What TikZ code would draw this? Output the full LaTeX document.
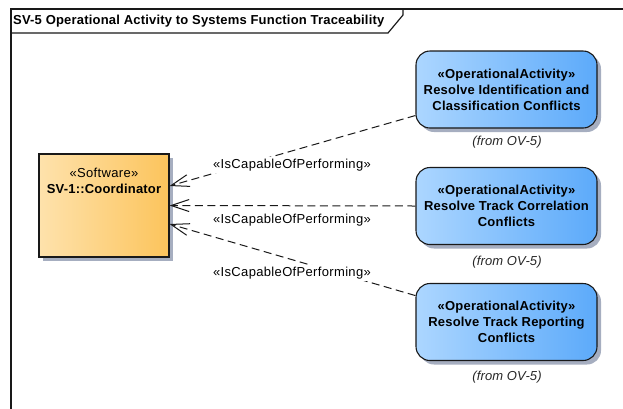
\documentclass[tikz,border=0pt]{standalone}
\usepackage{fontspec}
\setmainfont{Liberation Sans}[LetterSpace=2.6,BoldFeatures={LetterSpace=1.5},ItalicFeatures={LetterSpace=1}]
\usetikzlibrary{arrows.meta,shadows,calc}

\definecolor{swLeft}{RGB}{254,226,172}
\definecolor{swRight}{RGB}{252,196,92}
\definecolor{actLeft}{RGB}{172,214,255}
\definecolor{actRight}{RGB}{92,170,250}
\definecolor{shadowGray}{RGB}{166,174,192}
\definecolor{edge}{RGB}{25,25,25}

\tikzset{
  px/.style={x=1pt,y=-1pt},
  frameline/.style={draw=edge,line width=1.2pt},
  software/.style={draw=edge,line width=1.1pt,left color=swLeft,right color=swRight,
    minimum width=130pt,minimum height=103pt,inner sep=0pt,
    drop shadow={shadow xshift=4pt,shadow yshift=-4pt,fill=shadowGray,opacity=1}},
  activity/.style={draw=edge,line width=1.1pt,rounded corners=14pt,
    left color=actLeft,right color=actRight,
    minimum width=181pt,minimum height=77pt,align=center,inner sep=0pt,
    font=\fontsize{13}{16}\selectfont\bfseries,
    drop shadow={shadow xshift=4pt,shadow yshift=-4pt,fill=shadowGray,opacity=1}},
  origin/.style={font=\fontsize{13}{16}\selectfont\itshape,text=black!85},
  stereo/.style={font=\fontsize{13}{16}\selectfont,inner sep=0pt},
  deplabel/.style={stereo,fill=white,inner xsep=1pt,inner ysep=1.5pt},
  realizes/.style={draw=edge,line width=1pt,dash pattern=on 8pt off 4.5pt,
    -{Straight Barb[length=18pt,width=12pt,line width=1pt]}},
}

\begin{document}
\begin{tikzpicture}[px]
\useasboundingbox (0,0) rectangle (623,408);

% diagram frame with its name tab
\draw[frameline] (11,412) -- (11,9) -- (626,9);
\draw[frameline] (11,33) -- (388,33) -- (403,15) -- (403,9);
\node[anchor=west,inner sep=0pt,font=\fontsize{13}{16}\selectfont\bfseries]
  (title) at (13,21) {SV-5 Operational Activity to Systems Function Traceability};

% software element
\node[software] (coord) at (104,205.5) {};
\node[stereo] (coordSt) at (104,173) {«Software»};
\node[stereo,font=\fontsize{13}{16}\selectfont\bfseries] (coordName) at (104,189) {SV-1::Coordinator};

% operational activities
\node[activity] (act1) at (506.5,89.5)
  {«OperationalActivity»\\Resolve Identification and\\Classification Conflicts};
\node[activity] (act2) at (506.5,206)
  {«OperationalActivity»\\Resolve Track Correlation\\Conflicts};
\node[activity] (act3) at (506.5,322)
  {«OperationalActivity»\\Resolve Track Reporting\\Conflicts};

\node[origin] (from1) at (507,142) {(from OV-5)};
\node[origin] (from2) at (507,262) {(from OV-5)};
\node[origin] (from3) at (507,377) {(from OV-5)};

% traceability dependencies
\coordinate (in1) at ($(coord.east)+(0,-19.5)$);
\coordinate (in2) at (coord.east);
\coordinate (in3) at ($(coord.east)+(0,18.5)$);
\draw[realizes] (act1) -- (in1);
\draw[realizes] (act2.west) -- (in2);
\draw[realizes] (act3) -- (in3);

% stereotype labels, set over the dependency lines
\node[deplabel] (lab1) at (292,165) {«IsCapableOfPerforming»};
\node[deplabel] (lab2) at (292,220) {«IsCapableOfPerforming»};
\node[deplabel] (lab3) at (292,273) {«IsCapableOfPerforming»};
\end{tikzpicture}
\end{document}
